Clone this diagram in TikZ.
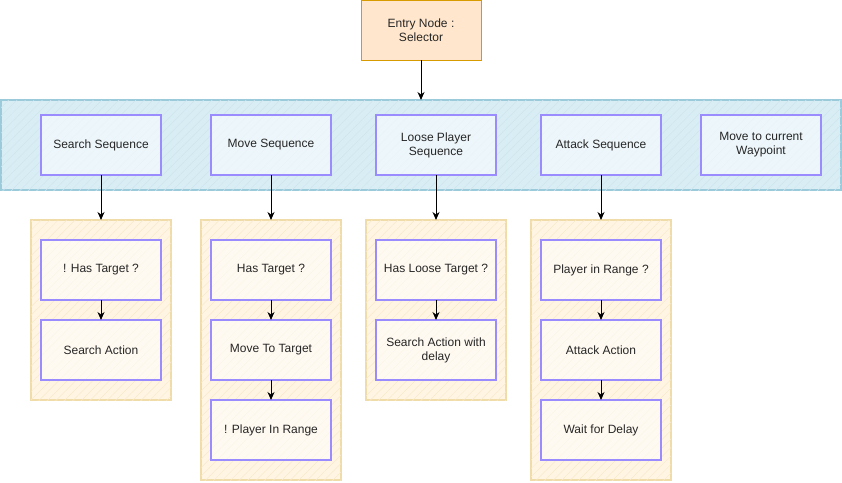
\documentclass[tikz,border=0pt]{standalone}
\usepackage{fontspec}
\setmainfont{Liberation Sans}
\usetikzlibrary{arrows.meta,patterns.meta}
\definecolor{entryfill}{HTML}{FFE6CC}
\definecolor{entrystroke}{HTML}{D79B00}
\definecolor{bluefill}{HTML}{D9EDF5}
\definecolor{bluestroke}{HTML}{9BCADB}
\definecolor{bluehatch}{HTML}{CFE6EF}
\definecolor{yelfill}{HTML}{FFF5E2}
\definecolor{yelstroke}{HTML}{F0DCA8}
\definecolor{yelhatch}{HTML}{F8EACD}
\definecolor{leafstroke}{HTML}{9A8CFF}
\tikzset{
  base/.style={font=\fontsize{12}{14}\selectfont, align=center, inner sep=0pt, outer sep=0pt, text=black!85},
  entrybox/.style={base, draw=entrystroke, fill=entryfill, line width=1pt, minimum width=120pt, minimum height=60pt},
  leaf/.style={base, draw=leafstroke, line width=1.8pt, fill=white, fill opacity=0.55, text opacity=1, minimum width=120pt, minimum height=60pt},
  bluegroup/.style={draw=bluestroke, line width=1.5pt, fill=bluefill, inner sep=0pt, outer sep=0pt,
     postaction={pattern={Lines[angle=45,distance=6pt,line width=0.5pt]}, pattern color=bluehatch}},
  yelgroup/.style={draw=yelstroke, line width=1.5pt, fill=yelfill, inner sep=0pt, outer sep=0pt, minimum width=140pt,
     postaction={pattern={Lines[angle=45,distance=6pt,line width=0.5pt]}, pattern color=yelhatch}},
  arr/.style={-{Stealth[length=8pt,width=7pt,inset=2.5pt]}, line width=1pt, black}
}
\begin{document}
\begin{tikzpicture}[x=1pt,y=-1pt]
\useasboundingbox (0,0) rectangle (842,482);
% entry
\node[entrybox] (entry) at (421,30) {Entry Node :\\Selector};
% blue container
\node[bluegroup, minimum width=840pt, minimum height=90pt] (seqrow) at (421,145) {};
% yellow containers
\node[yelgroup, minimum height=180pt] (g1) at (101,310) {};
\node[yelgroup, minimum height=260pt] (g2) at (271,350) {};
\node[yelgroup, minimum height=180pt] (g3) at (436,310) {};
\node[yelgroup, minimum height=260pt] (g4) at (601,350) {};
% sequences
\node[leaf] (s1) at (101,145) {Search Sequence};
\node[leaf] (s2) at (271,145) {Move Sequence};
\node[leaf] (s3) at (436,145) {Loose Player\\Sequence};
\node[leaf] (s4) at (601,145) {Attack Sequence};
\node[leaf] (s5) at (761,145) {Move to current\\Waypoint};
% leaves
\node[leaf] (a1) at (101,270) {! Has Target ?};
\node[leaf] (b1) at (101,350) {Search Action};
\node[leaf] (a2) at (271,270) {Has Target ?};
\node[leaf] (b2) at (271,350) {Move To Target};
\node[leaf] (c2) at (271,430) {! Player In Range};
\node[leaf] (a3) at (436,270) {Has Loose Target ?};
\node[leaf] (b3) at (436,350) {Search Action with\\delay};
\node[leaf] (a4) at (601,270) {Player in Range ?};
\node[leaf] (b4) at (601,350) {Attack Action};
\node[leaf] (c4) at (601,430) {Wait for Delay};
% arrows
\draw[arr] (entry.south) -- (seqrow.north);
\draw[arr] (s1.south) -- (g1.north);
\draw[arr] (s2.south) -- (g2.north);
\draw[arr] (s3.south) -- (g3.north);
\draw[arr] (s4.south) -- (g4.north);
\draw[arr] (a1.south) -- (b1.north);
\draw[arr] (a2.south) -- (b2.north);
\draw[arr] (b2.south) -- (c2.north);
\draw[arr] (a3.south) -- (b3.north);
\draw[arr] (a4.south) -- (b4.north);
\draw[arr] (b4.south) -- (c4.north);
\end{tikzpicture}
\end{document}
